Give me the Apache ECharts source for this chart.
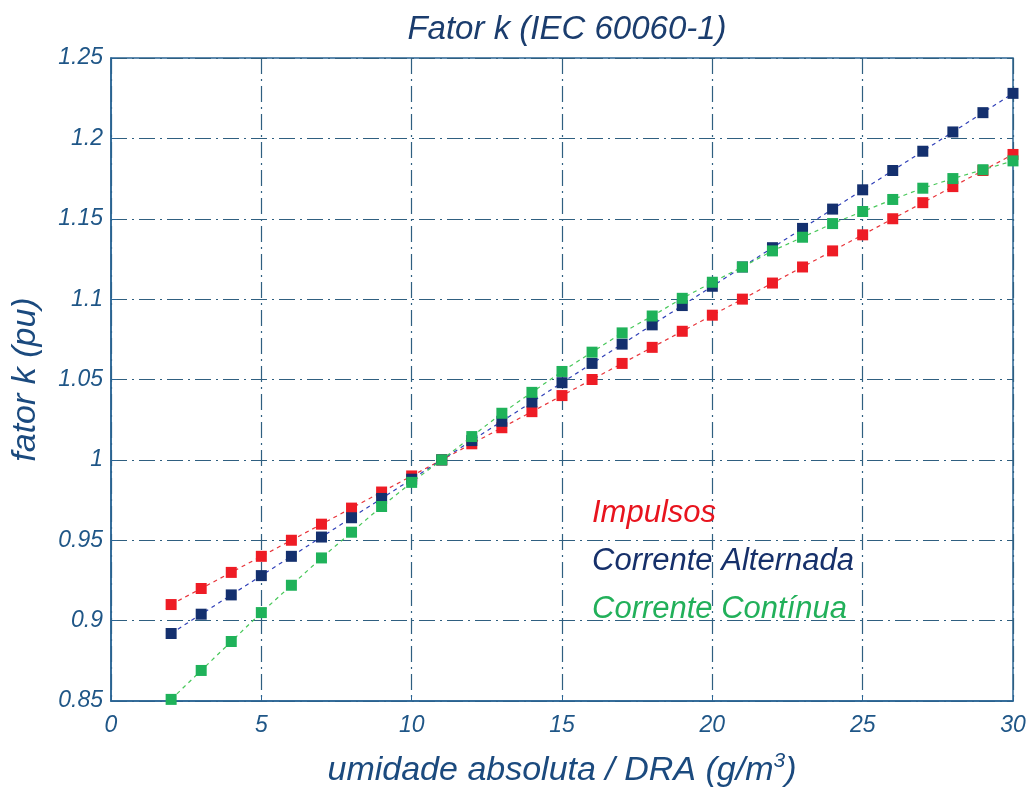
<!DOCTYPE html>
<html>
<head>
<meta charset="utf-8">
<script src="https://cdn.jsdelivr.net/npm/echarts@6/dist/echarts.min.js"></script>
<style>html,body{margin:0;padding:0;background:#fff}#c{width:1033px;height:793px}</style>
</head>
<body>
<div id="c"></div>
<script>
const humidity = [2,3,4,5,6,7,8,9,10,11,12,13,14,15,16,17,18,19,20,21,22,23,24,25,26,27,28,29,30];
const impulsos = [0.91,0.92,0.93,0.94,0.95,0.96,0.97,0.98,0.99,1.00,1.01,1.02,1.03,1.04,1.05,1.06,1.07,1.08,1.09,1.10,1.11,1.12,1.13,1.14,1.15,1.16,1.17,1.18,1.19];
const correnteAlternada = [0.892,0.904,0.916,0.928,0.940,0.952,0.964,0.976,0.988,1.000,1.012,1.024,1.036,1.048,1.060,1.072,1.084,1.096,1.108,1.120,1.132,1.144,1.156,1.168,1.180,1.192,1.204,1.216,1.228];
const correnteContinua = [0.851,0.869,0.887,0.905,0.922,0.939,0.955,0.971,0.986,1.000,1.0145,1.029,1.042,1.055,1.067,1.079,1.0895,1.1005,1.1105,1.120,1.130,1.1385,1.147,1.1545,1.162,1.169,1.175,1.1805,1.186];
const seriesNames = ['Impulsos','Corrente Alternada','Corrente Contínua'];

const axisColor = '#2a6494';
const labelColor = '#1f5687';
const gridLine = {show:true, lineStyle:{color:'#2f5f80', width:1.2, type:[16,5,2,5]}};
const font = '"Liberation Sans", Arial, sans-serif';

function pairs(ys){ return humidity.map((h,i)=>[h, ys[i]]); }

const chart = echarts.init(document.getElementById('c'));
chart.setOption({
  backgroundColor:'#fff',
  animation:false,
  title:{
    text:'Fator k (IEC 60060-1)',
    left:562, top:8, textAlign:'center',
    textStyle:{fontFamily:font, fontStyle:'italic', fontWeight:'normal', fontSize:33, color:'#1b3d6e'}
  },
  grid:{left:111, right:20, top:58, bottom:86, show:true, borderColor:axisColor, borderWidth:1.5, backgroundColor:'transparent'},
  legend:{
    orient:'vertical', left:587, top:493, itemGap:17, itemWidth:0, itemHeight:0, icon:'rect',
    selectedMode:false,
    data:[
      {name:seriesNames[0], textStyle:{color:'#e8141e'}},
      {name:seriesNames[1], textStyle:{color:'#16306a'}},
      {name:seriesNames[2], textStyle:{color:'#22b05a'}}
    ],
    textStyle:{fontFamily:font, fontStyle:'italic', fontSize:31, padding:[0,0,0,-5]}
  },
  xAxis:{
    type:'value', min:0, max:30, interval:5,
    axisLine:{show:true, onZero:false, lineStyle:{color:axisColor, width:1.5}},
    axisTick:{show:true, inside:true, length:6, lineStyle:{color:axisColor}},
    axisLabel:{fontFamily:font, fontStyle:'italic', fontSize:23, color:labelColor, margin:13},
    splitLine:gridLine,
    name:'{a|umidade absoluta / DRA (g/m}{s|3}{a|)}',
    nameLocation:'middle', nameGap:50,
    nameTextStyle:{rich:{
      a:{fontFamily:font, fontStyle:'italic', fontSize:34, color:'#1b4a7e', verticalAlign:'bottom'},
      s:{fontFamily:font, fontStyle:'italic', fontSize:21, color:'#1b4a7e', verticalAlign:'top', padding:[0,0,16,0]}
    }}
  },
  yAxis:{
    type:'value', min:0.85, max:1.25, interval:0.05,
    axisLine:{show:true, onZero:false, lineStyle:{color:axisColor, width:1.5}},
    axisTick:{show:true, inside:true, length:6, lineStyle:{color:axisColor}},
    axisLabel:{fontFamily:font, fontStyle:'italic', fontSize:23, color:labelColor, margin:8,
      formatter:v=>String(parseFloat(v.toFixed(2)))},
    splitLine:gridLine,
    name:'fator k (pu)', nameLocation:'middle', nameGap:68, nameRotate:90,
    nameTextStyle:{fontFamily:font, fontStyle:'italic', fontSize:34, color:'#1b4a7e'}
  },
  series:[
    {name:seriesNames[0], type:'line', data:pairs(impulsos), symbol:'rect', symbolSize:11,
     itemStyle:{color:'#ee1c25'}, lineStyle:{color:'#e8343a', width:1.2, type:[4,4]}, z:2},
    {name:seriesNames[1], type:'line', data:pairs(correnteAlternada), symbol:'rect', symbolSize:11,
     itemStyle:{color:'#14306e'}, lineStyle:{color:'#3040b8', width:1.2, type:[4,4]}, z:3},
    {name:seriesNames[2], type:'line', data:pairs(correnteContinua), symbol:'rect', symbolSize:11,
     itemStyle:{color:'#1fb25a'}, lineStyle:{color:'#48c85a', width:1.2, type:[4,4]}, z:4}
  ]
});
</script>
</body>
</html>
